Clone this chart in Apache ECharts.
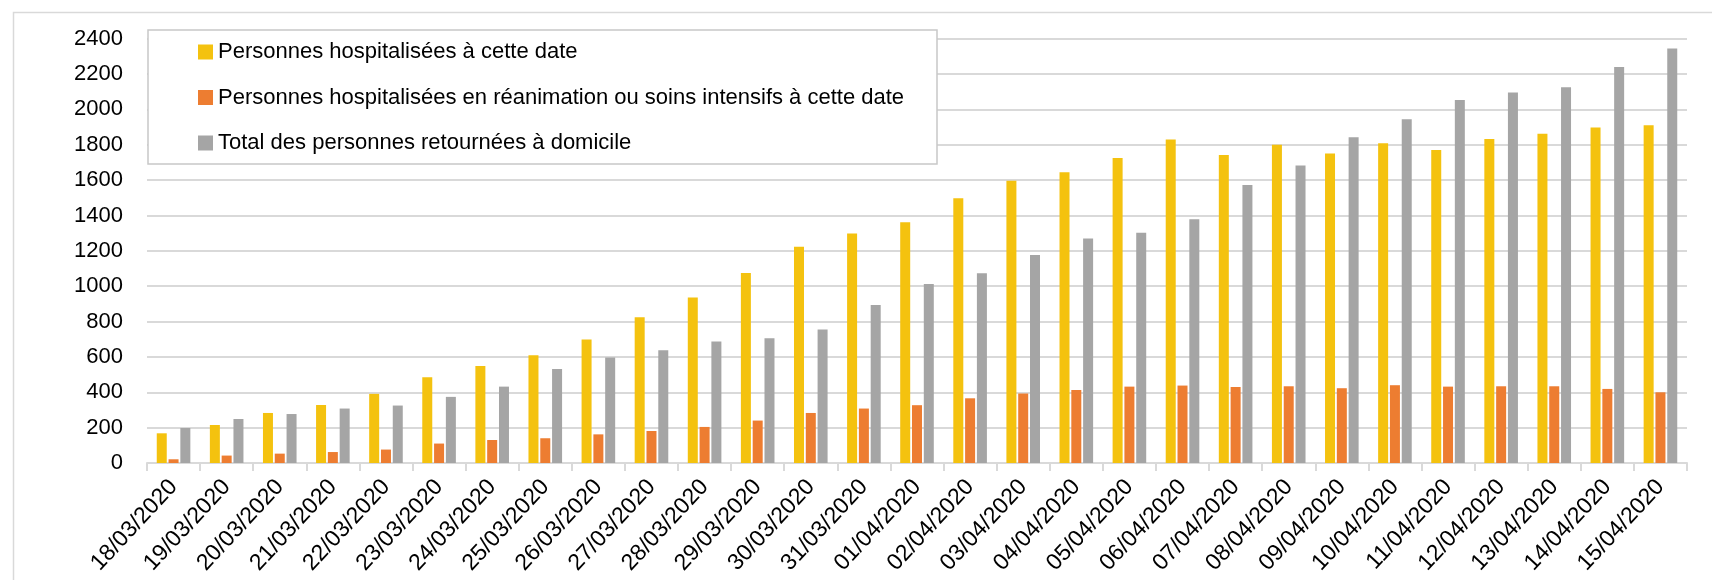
<!DOCTYPE html>
<html>
<head>
<meta charset="utf-8">
<style>
  html, body { margin: 0; padding: 0; background: #ffffff; }
  #chart { width: 1712px; height: 580px; }
</style>
<script src="https://cdn.jsdelivr.net/npm/echarts@6/dist/echarts.min.js"></script>
</head>
<body>
<div id="chart"></div>
<script>
const categories = ['18/03/2020','19/03/2020','20/03/2020','21/03/2020','22/03/2020','23/03/2020','24/03/2020','25/03/2020','26/03/2020','27/03/2020','28/03/2020','29/03/2020','30/03/2020','31/03/2020','01/04/2020','02/04/2020','03/04/2020','04/04/2020','05/04/2020','06/04/2020','07/04/2020','08/04/2020','09/04/2020','10/04/2020','11/04/2020','12/04/2020','13/04/2020','14/04/2020','15/04/2020'];
const hospitalises = [168,215,283,328,391,485,549,610,698,825,936,1075,1223,1298,1362,1497,1596,1645,1725,1830,1742,1800,1751,1808,1770,1832,1862,1898,1911];
const reanimation = [21,42,53,62,76,110,130,140,162,181,204,240,283,308,327,366,393,413,432,438,430,434,423,440,432,434,434,419,400];
const domicile = [198,249,277,308,325,374,432,532,597,638,687,706,755,894,1013,1074,1176,1270,1302,1379,1572,1683,1842,1945,2053,2096,2125,2240,2345];
const seriesNames = ['Personnes hospitalisées à cette date','Personnes hospitalisées en réanimation ou soins intensifs à cette date','Total des personnes retournées à domicile'];
const yTicks = {min: 0, max: 2400, interval: 200};

const FONT = '"Liberation Sans", Arial, sans-serif';
const chart = echarts.init(document.getElementById('chart'), null, {renderer: 'canvas'});
const colors = ['#F4C20F', '#ED7D31', '#A5A5A5'];
const barStyle = (c) => ({color: c});

chart.setOption({
  animation: false,
  backgroundColor: '#ffffff',
  color: colors,
  graphic: [
    {type: 'rect', left: 11, top: 10, shape: {x: 0, y: 0, width: 1800, height: 700}, style: {fill: 'none', stroke: '#d9d9d9', lineWidth: 1.5}, z: -1},
    {type: 'rect', shape: {x: 148, y: 30, width: 789, height: 134}, style: {fill: '#ffffff', stroke: '#c8c8c8', lineWidth: 1.5}, z: 5}
  ],
  legend: {
    orient: 'vertical',
    left: 198,
    top: 39,
    padding: 0,
    itemWidth: 15,
    itemHeight: 15,
    itemGap: 19.5,
    icon: 'rect',
    z: 10,
    textStyle: {fontFamily: FONT, fontSize: 22, color: '#000000', lineHeight: 26, padding: [0, 0, 0, 0]},
    data: seriesNames
  },
  grid: {left: 147, right: 25, top: 38.7, bottom: 117, containLabel: false},
  xAxis: {
    type: 'category',
    data: categories,
    boundaryGap: true,
    axisLine: {show: true, lineStyle: {color: '#d9d9d9', width: 2}},
    axisTick: {show: true, alignWithLabel: false, length: 8, lineStyle: {color: '#d9d9d9', width: 2}},
    axisLabel: {rotate: 47, margin: 20, interval: 0, fontFamily: FONT, fontSize: 23, color: '#000000'},
    splitLine: {show: false}
  },
  yAxis: {
    type: 'value',
    min: yTicks.min,
    max: yTicks.max,
    interval: yTicks.interval,
    axisLine: {show: false},
    axisTick: {show: false},
    axisLabel: {margin: 24, fontFamily: FONT, fontSize: 22, color: '#000000', formatter: (v) => String(v)},
    splitLine: {show: true, lineStyle: {color: '#d9d9d9', width: 2}}
  },
  series: [
    {name: seriesNames[0], type: 'bar', data: hospitalises, barWidth: 10, barGap: '18%', itemStyle: barStyle(colors[0])},
    {name: seriesNames[1], type: 'bar', data: reanimation, barWidth: 10, barGap: '18%', itemStyle: barStyle(colors[1])},
    {name: seriesNames[2], type: 'bar', data: domicile, barWidth: 10, barGap: '18%', itemStyle: barStyle(colors[2])}
  ]
});
</script>
</body>
</html>
